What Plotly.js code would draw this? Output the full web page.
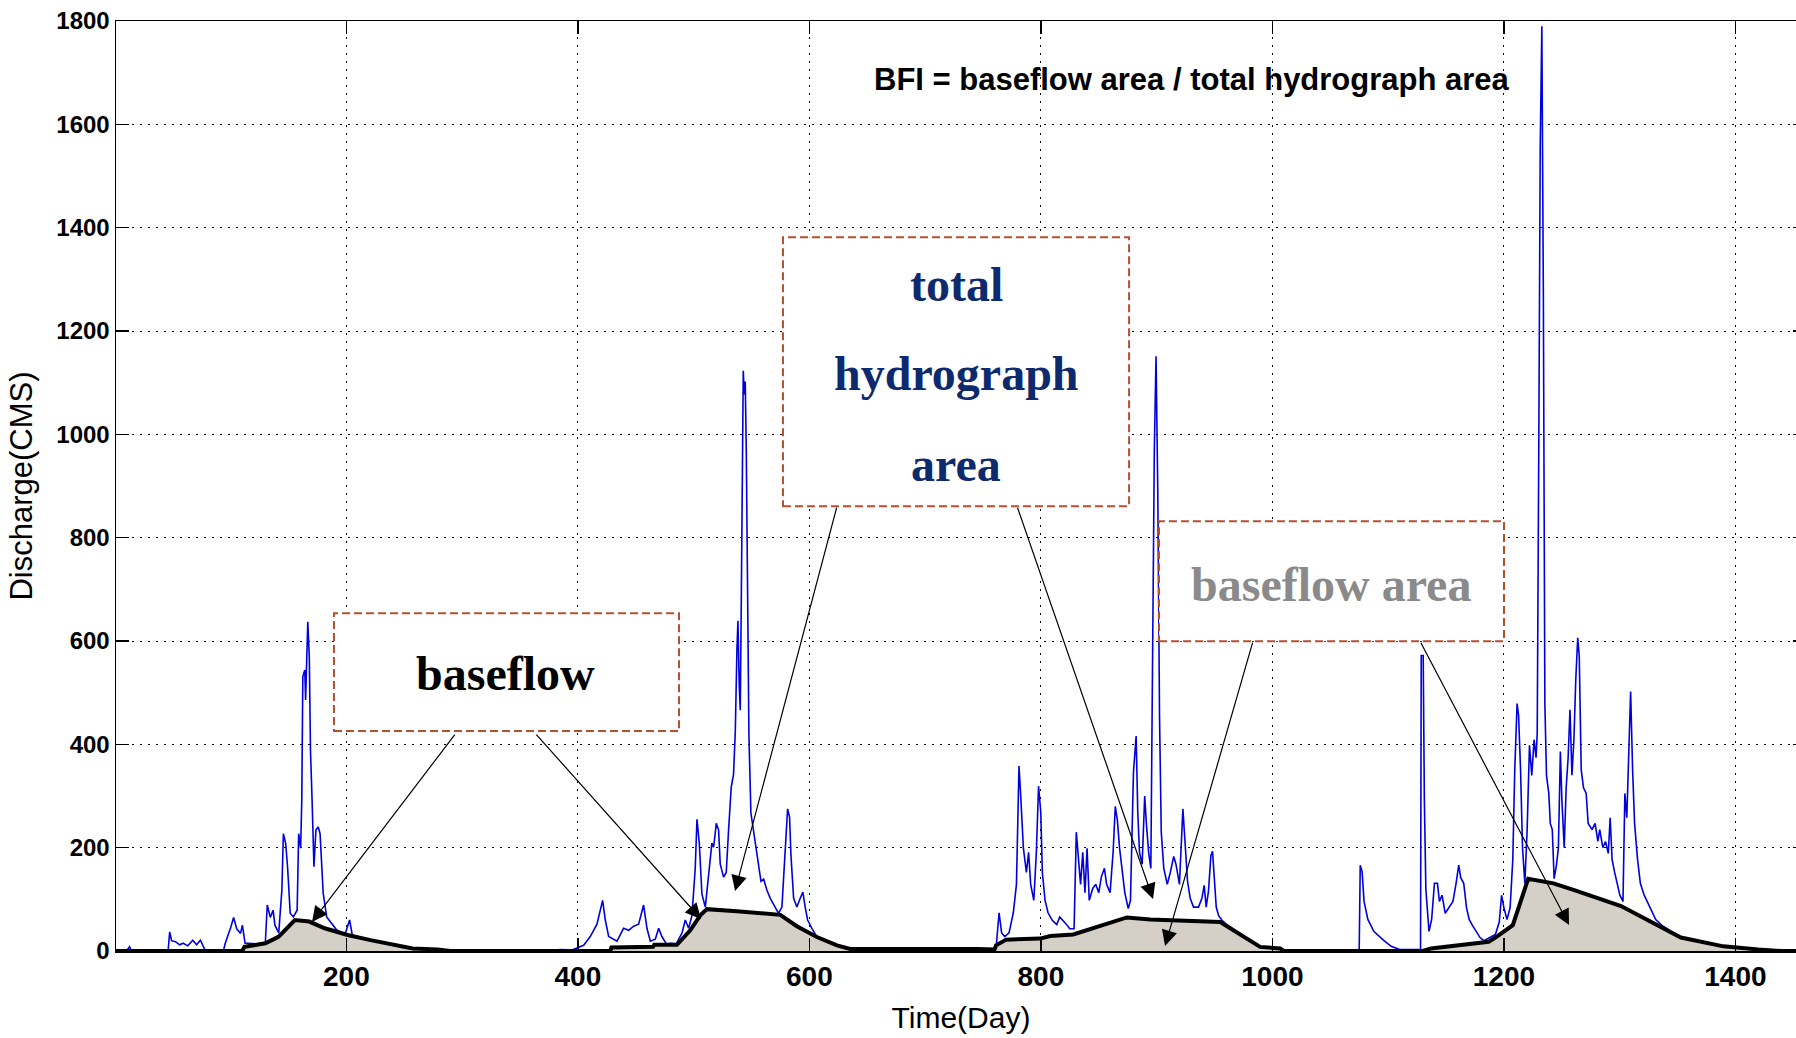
<!DOCTYPE html>
<html>
<head>
<meta charset="utf-8">
<script src="https://cdn.plot.ly/plotly-3.0.1.min.js"></script>
<style>
  html, body { margin: 0; padding: 0; overflow: hidden; background: #fff; }
  #chart { width: 1806px; height: 1038px; }
</style>
</head>
<body>
<div id="chart"></div>
<script>
// ---- data ----
const flowDay = [1,10,12.7,14.5,46,47.4,49,52.4,56,59,63,67.3,70.6,73.9,77.2,79,93.7,95.4,100.3,102.6,105.3,108.6,110.2,112.5,115.2,122,130,131.7,134.3,136.7,138.3,141.6,144.3,145.6,147.6,149.2,151.5,154.2,157.5,158.8,160.5,161.5,162.4,164.1,164.8,165.7,166.7,168,169,170.4,172,173.7,175.7,177.3,178.6,180,183,186.2,191.2,194.5,199,202.8,205.1,209.4,220.9,234.2,247.4,257.3,278.8,290,370,385,395,405,410.7,416.5,421.4,423.7,426.6,433.8,439.5,443.9,448.2,452.5,456.8,459.7,462.6,466.9,469.8,472.6,477,479.8,485,490,492.8,495.7,498.6,501.4,502.9,504.9,507.2,510.1,513.8,515.8,517.3,519.6,521.6,523,525.9,528.2,530.2,532.5,534.5,536,537.4,538.3,539.4,540.3,541.2,542,542.9,543.8,544.6,545.5,546.6,547.8,549.5,551.8,554.1,556.1,558.2,560.5,563.3,566.2,570.5,573.4,576.3,579.2,581.2,582.9,584.1,586.4,589.2,592.1,594.4,596.4,598.5,602.2,606.5,623.8,635.3,745,760,761.3,763.9,766.1,768.8,772.5,776.2,778.9,781.1,782.6,784.9,787.5,789.4,791.2,793.9,796.1,798,799.9,801.3,803.6,806.2,810,813.7,816.3,819.3,822.3,824.9,828.7,830.6,832.8,834.3,836.2,838.1,839.9,841.8,844.8,847.4,850,852.3,854.9,856.8,859.8,862.4,864.3,866.1,868,869.9,872.5,875.5,877.4,880,882.3,883.7,885.2,887.5,889.7,891.2,893.1,895,896.5,898,899.5,901,902.5,904,906.2,909.2,911.8,914.8,916.7,919.7,922.7,924.7,926.7,929,931.9,936.2,939.1,941.1,942.8,944.8,946.9,948.3,949.7,951.5,953.5,956.3,960,989.4,1006.7,1010,1075,1075.9,1077.5,1079.2,1082.5,1087.6,1095.9,1102.6,1110,1128,1128.6,1130.3,1131.3,1132.6,1135.3,1137.6,1140,1142.6,1144.3,1146.6,1149.3,1152.6,1156,1158.7,1161,1162.7,1165.3,1167.7,1170,1172.7,1176,1179.4,1182.7,1187.7,1192.7,1196,1198,1200,1202.7,1205.4,1207.7,1209.4,1211.4,1212.7,1214.4,1216.1,1218.1,1220.1,1222.1,1224.1,1226.1,1227.8,1228.8,1230.1,1231.4,1232.8,1234.1,1235.4,1236.8,1238.8,1240.1,1241.8,1243.4,1245.4,1247.1,1248.8,1250.1,1252.1,1253.8,1255.5,1257.1,1258.8,1260.5,1262.1,1263.8,1265.1,1266.8,1268.8,1271.1,1272.8,1276.2,1278.8,1281.2,1282.8,1285.5,1287.8,1290.2,1291.8,1293.5,1295.5,1297.8,1300.2,1302.9,1304.5,1306.2,1307.9,1309.5,1311.2,1312.9,1315.5,1317.9,1321.2,1326.2,1331.2,1336.2,1344.6,1352.9,1389.6,1419.7,1440,1461];
const flowCMS = [0,0,8,0,0,37,20,18,12,15,10,21,12,21,5,0,0,15,47,65,43,34,50,15,15,14,16,89,65,79,50,35,118,227,208,163,73,66,79,227,199,292,531,544,486,582,637,569,389,292,163,234,240,227,163,112,66,57,42,37,33,60,31,28,21,15,8,5,3,0,0,3,2,11,28,52,98,60,28,19,44,40,48,52,89,44,19,23,44,28,12,15,14,35,60,44,69,160,255,209,110,85,168,209,201,247,234,168,143,152,234,317,342,424,581,639,515,466,680,995,1123,1077,1102,970,680,416,267,234,201,168,135,139,118,102,85,73,85,185,275,259,185,102,85,102,114,85,60,44,27,11,4,4,3,5,74,35,28,35,74,129,358,300,199,152,191,129,98,191,319,269,152,98,74,59,51,66,59,51,43,43,230,168,129,191,113,199,98,121,129,113,144,160,129,113,191,280,253,199,160,113,82,98,346,416,269,191,168,300,245,191,160,580,968,1151,890,455,230,160,129,152,183,168,129,275,193,135,102,85,85,102,127,85,116,185,193,143,85,69,60,52,8,5,0,0,166,154,96,61,38,21,9,3,3,572,572,293,119,38,61,131,131,96,108,73,84,96,131,166,142,131,84,61,50,38,26,20,26,32,56,108,84,61,84,177,351,479,456,351,200,131,235,398,340,409,374,421,954,1558,1790,1268,479,340,305,247,235,140,166,200,386,293,200,316,374,467,340,409,525,606,572,351,316,305,247,235,247,212,235,200,212,189,258,177,154,131,108,96,305,258,398,502,351,247,177,131,108,84,61,50,38,26,9,3,0,0];

const baseDay = [1,110,112,130,138.3,141.6,155.5,168,181.3,201.1,220.9,234.2,247.4,257.3,278.8,290,428,429,465,466,485.6,497.1,505.8,511.5,537.4,554.7,574.9,589.2,606.5,623.8,635.3,745,760,761.3,770,799.4,808,828,874.3,894.5,910.4,954.9,989.4,1006.7,1010,1130,1137,1186.8,1192.7,1207.7,1221,1242.8,1260.8,1301.2,1352.9,1389.6,1419.7,1440,1461];
const baseCMS = [0,0,8,15,24,28,60,57,44,31,21,15,8,5,3,0,0,7,8,12,12,40,69,81,77,73,70,48,27,11,4,4,3,11,22,24,29,32,65,61,60,56,8,5,0,0,5,18,26,50,140,131,118,87,26,9,3,0,0];

const xTicks = [200, 400, 600, 800, 1000, 1200, 1400];
const yTicks = [0, 200, 400, 600, 800, 1000, 1200, 1400, 1600, 1800];

const labelBaseflow = "baseflow";
const labelTotal = ["total", "hydrograph", "area"];
const labelBaseArea = "baseflow area";
const labelBFI = "BFI = baseflow area / total hydrograph area";

// ---- traces ----
const traces = [
  { x: baseDay, y: baseCMS, type: 'scatter', mode: 'lines', fill: 'tozeroy',
    fillcolor: '#d4d0c8', line: { width: 0, color: 'rgba(0,0,0,0)' }, hoverinfo: 'skip', showlegend: false },
  { x: flowDay, y: flowCMS, type: 'scatter', mode: 'lines',
    line: { color: '#0000dd', width: 1.6 }, showlegend: false, name: 'discharge' },
  { x: baseDay, y: baseCMS, type: 'scatter', mode: 'lines',
    line: { color: '#000000', width: 4 }, showlegend: false, name: 'baseflow' }
];

const boxLine = { color: '#b5502f', width: 2, dash: '8px,4px' };
const shapes = [
  { type: 'rect', xref: 'x', yref: 'y', x0: 189.3, x1: 487.4, y0: 425.6, y1: 653.9, layer: 'above', fillcolor: '#ffffff', line: boxLine },
  { type: 'rect', xref: 'x', yref: 'y', x0: 577.2, x1: 876.2, y0: 860.9, y1: 1381.3, layer: 'above', fillcolor: '#ffffff', line: boxLine },
  { type: 'rect', xref: 'x', yref: 'y', x0: 902.1, x1: 1200.1, y0: 599.7, y1: 831.9, layer: 'above', fillcolor: '#ffffff', line: boxLine }
];

const serif = 'Liberation Serif, Times New Roman, serif';
const sans = 'Liberation Sans, Arial, sans-serif';
function arrow(hx, hy, tx, ty) {
  return { x: hx, y: hy, ax: tx, ay: ty, xref: 'x', yref: 'y', axref: 'x', ayref: 'y',
    text: '', showarrow: true, arrowhead: 2, arrowsize: 2.6, arrowwidth: 1.2, arrowcolor: '#000', standoff: 0, startstandoff: 0 };
}
const annotations = [
  { x: 337.9, y: 537.8, xref: 'x', yref: 'y', text: labelBaseflow, showarrow: false,
    font: { family: serif, size: 48, color: '#000000', weight: 'bold' } },
  { x: 727, y: 1290.4, xref: 'x', yref: 'y', text: labelTotal[0], showarrow: false,
    font: { family: serif, size: 48, color: '#0d2a6e', weight: 'bold' } },
  { x: 727, y: 1118.2, xref: 'x', yref: 'y', text: labelTotal[1], showarrow: false,
    font: { family: serif, size: 48, color: '#0d2a6e', weight: 'bold' } },
  { x: 727, y: 942.2, xref: 'x', yref: 'y', text: labelTotal[2], showarrow: false,
    font: { family: serif, size: 48, color: '#0d2a6e', weight: 'bold' } },
  { x: 1050.7, y: 710, xref: 'x', yref: 'y', text: labelBaseArea, showarrow: false,
    font: { family: serif, size: 48, color: '#8a8a8a', weight: 'bold' } },
  { x: 930.6, y: 1687, xref: 'x', yref: 'y', text: labelBFI, showarrow: false,
    font: { family: sans, size: 31, color: '#000000', weight: 'bold' } },
  arrow(170.3, 56.1, 294.7, 421.7),
  arrow(506.4, 61.9, 363, 421.7),
  arrow(535.8, 116.1, 623.9, 860.9),
  arrow(896.9, 100.6, 779.4, 860.9),
  arrow(907.3, 9.7, 983.3, 599.7),
  arrow(1256.3, 50.3, 1127.6, 599.7)
];

const layout = {
  width: 1806, height: 1038,
  margin: { l: 116, r: 0, t: 21, b: 87, pad: 0 },
  paper_bgcolor: '#ffffff', plot_bgcolor: '#ffffff',
  showlegend: false,
  xaxis: {
    range: [1, 1461], tickvals: xTicks, ticktext: xTicks.map(String),
    ticks: 'inside', ticklen: 13, tickwidth: 1.5, tickcolor: '#000',
    showline: true, linecolor: '#000', linewidth: 1.5, mirror: 'ticks',
    showgrid: true, gridcolor: '#000', gridwidth: 1, griddash: '2px,6px',
    zeroline: false, automargin: false,
    tickfont: { family: sans, size: 28, color: '#000', weight: 'bold' },
    title: { text: 'Time(Day)', standoff: 16,
      font: { family: sans, size: 30, color: '#000' } }
  },
  yaxis: {
    range: [0, 1800], tickvals: yTicks, ticktext: yTicks.map(String),
    ticks: 'inside', ticklen: 13, tickwidth: 1.5, tickcolor: '#000',
    showline: true, linecolor: '#000', linewidth: 1.5, mirror: 'ticks',
    showgrid: true, gridcolor: '#000', gridwidth: 1, griddash: '2px,6px',
    zeroline: false, automargin: false,
    tickfont: { family: sans, size: 24, color: '#000', weight: 'bold' },
    title: { text: 'Discharge(CMS)', standoff: 14,
      font: { family: sans, size: 31, color: '#000' } }
  },
  shapes: shapes,
  annotations: annotations
};

Plotly.newPlot('chart', traces, layout, { displayModeBar: false, staticPlot: true });
</script>
</body>
</html>
